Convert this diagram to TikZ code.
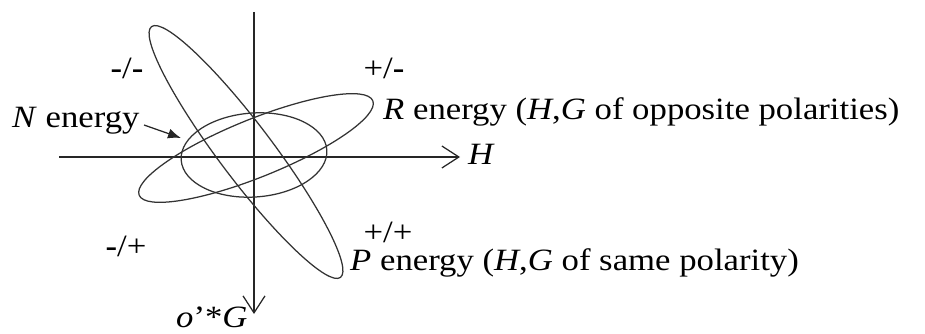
\documentclass[tikz,border=0pt]{standalone}
\usepackage{fontspec}
\setmainfont{Liberation Serif}[FakeStretch=1.12]
\usetikzlibrary{arrows.meta}
\begin{document}
\begin{tikzpicture}[x=1pt,y=-1pt,
  curve/.style={draw=black!80,line width=1.25pt},
  axis/.style={draw=black!85,line width=1.25pt,-{Straight Barb[length=17pt,width=22pt,line width=1.25pt]}},
  lbl/.style={font=\fontsize{31}{37}\selectfont,inner sep=0pt,anchor=base west,text=black},
  quad/.style={font=\fontsize{31}{37}\selectfont,inner sep=0pt,anchor=base,text=black}]
\useasboundingbox (0,0) rectangle (925,334);
% axes
\coordinate (hl) at (59,157);
\coordinate (hr) at (460,157);
\coordinate (vt) at (254,12);
\coordinate (vb) at (254,314);
\draw[axis] (hl) -- (hr);
\draw[axis] (vt) -- (vb);
% ellipses
\draw[curve,rotate around={4:(254,155)}] (254,155) ellipse [x radius=73, y radius=42];
\draw[curve,rotate around={22:(256,148)}] (256,148) ellipse [x radius=126, y radius=29];
\draw[curve,rotate around={-53:(246,152)}] (246,152) ellipse [x radius=157, y radius=27];
% quadrant labels
\node[quad] (mm) at (127,79) {\textbf{-}/\textbf{-}};
\node[quad] (pm) at (384,79) {+/\textbf{-}};
\node[quad] (mp) at (126,256) {\textbf{-}/+};
\node[quad] (pp) at (388,242) {+/+};
% texts
\node[lbl] (N) at (12,128) {\textit{N} energy};
\coordinate (Nstart) at (144,125);
\coordinate (Ntip) at (181,138);
\draw[black!85,line width=1.25pt,-{Latex[length=13pt,width=10pt]}] (Nstart) -- (Ntip);
\node[lbl] (R) at (383,119) {\textit{R} energy (\textit{H},\textit{G} of opposite polarities)};
\node[lbl] (H) at (468,164) {\textit{H}};
\node[lbl] (P) at (350,270) {\textit{P} energy (\textit{H},\textit{G} of same polarity)};
\node[lbl] (G) at (176,327) {\textit{o}’*\textit{G}};
\end{tikzpicture}
\end{document}
